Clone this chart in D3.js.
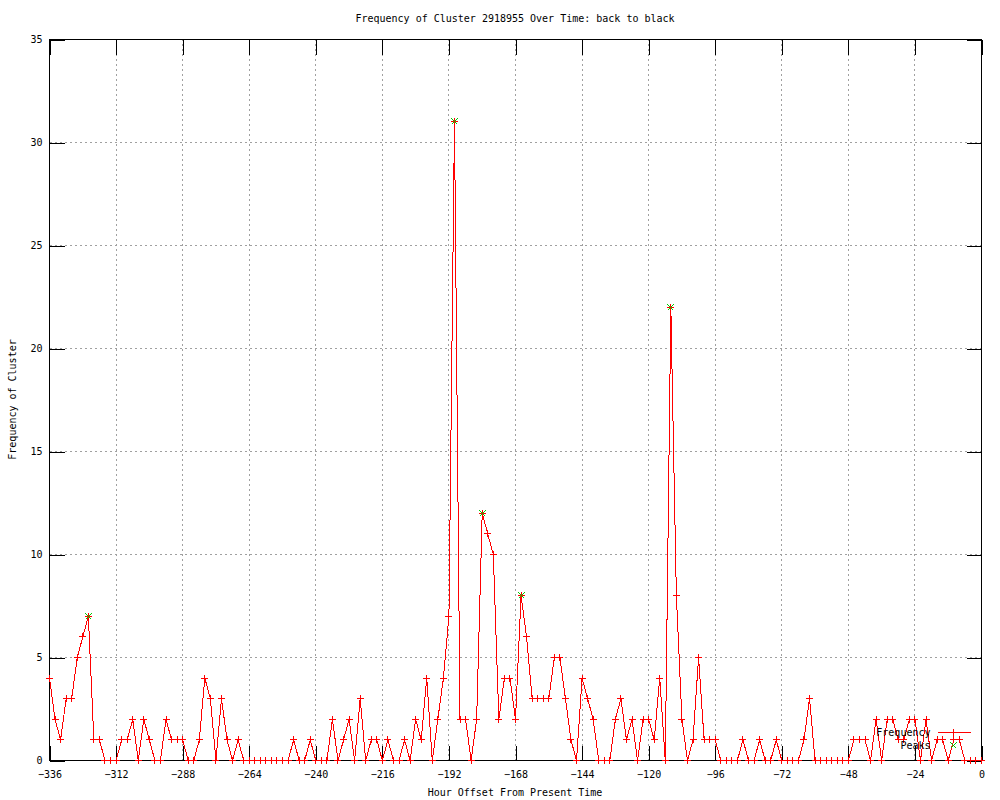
<!DOCTYPE html>
<html>
<head>
<meta charset="utf-8">
<script src="https://cdn.jsdelivr.net/npm/d3@7"></script>
<style>
body { margin: 0; background: #fff; }
text { font-family: "DejaVu Sans Mono", monospace; font-size: 10px; fill: #000; }
</style>
</head>
<body>
<div id="container"></div>
<script>
// frequency per 2-hour bucket, starting at -336h
const hourStart = -336,
      hourStep = 2;
const frequency = [
  4,2,1,3,3,5,6,7,1,1,
  0,0,0,1,1,2,0,2,1,0,
  0,2,1,1,1,0,0,1,4,3,
  0,3,1,0,1,0,0,0,0,0,
  0,0,0,0,1,0,0,1,0,0,
  0,2,0,1,2,0,3,0,1,1,
  0,1,0,0,1,0,2,1,4,0,
  2,4,7,31,2,2,0,2,12,11,
  10,2,4,4,2,8,6,3,3,3,
  3,5,5,3,1,0,4,3,2,0,
  0,0,2,3,1,2,0,2,2,1,
  4,0,22,8,2,0,1,5,1,1,
  1,0,0,0,0,1,0,0,1,0,
  0,1,0,0,0,0,1,3,0,0,
  0,0,0,0,0,1,1,1,0,2,
  0,2,2,1,1,2,2,0,2,0,
  1,1,0,1,1,0,0,0,0
];
const peakHours = [-322, -190, -180, -166, -112];
const peakValues = [7, 31, 12, 8, 22];

const xTicks = [-336,-312,-288,-264,-240,-216,-192,-168,-144,-120,-96,-72,-48,-24,0];
const yTicks = [0,5,10,15,20,25,30,35];

const titleText = "Frequency of Cluster 2918955 Over Time: back to black",
      xLabel = "Hour Offset From Present Time",
      yLabel = "Frequency of Cluster";

const w = 1000,
      h = 800,
      plot = {left: 49, right: 981, top: 39, bottom: 760},
      tickLen = 15;

const freqData = frequency.map((v, i) => ({hour: hourStart + i * hourStep, value: v}));
const peakData = peakHours.map((hr, i) => ({hour: hr, value: peakValues[i]}));

const x = d3.scaleLinear().domain([-336, 0]).range([plot.left, plot.right]);
const y = d3.scaleLinear().domain([0, 35]).range([plot.bottom, plot.top]);

let svg = d3.select("#container")
    .append("svg")
    .attr("width", w)
    .attr("height", h);

let g = svg.append("g")
    .attr("transform", "translate(0.5,0.5)");

// dotted grid
let grid = g.append("g")
    .attr("stroke", "#a0a0a0")
    .attr("stroke-dasharray", "2,3")
    .attr("shape-rendering", "crispEdges");

grid.selectAll(".vgrid")
    .data(xTicks.slice(1, -1))
    .enter()
    .append("line")
    .attr("x1", (d) => Math.round(x(d)))
    .attr("x2", (d) => Math.round(x(d)))
    .attr("y1", plot.bottom)
    .attr("y2", plot.top);

grid.selectAll(".hgrid")
    .data(yTicks.slice(1, -1))
    .enter()
    .append("line")
    .attr("x1", plot.left)
    .attr("x2", plot.right)
    .attr("y1", (d) => Math.round(y(d)))
    .attr("y2", (d) => Math.round(y(d)));

// axes
function styleAxis(sel) {
    sel.select(".domain").remove();
    sel.selectAll("line").attr("stroke", "#000").attr("shape-rendering", "crispEdges");
    sel.selectAll("text").attr("font-family", null).attr("font-size", null).attr("fill", null);
}

const xr = (d) => Math.round(x(d)) + 0.5;

g.append("g")
    .attr("transform", "translate(0," + plot.bottom + ")")
    .call(d3.axisBottom(x).tickValues(xTicks).tickSize(-tickLen).tickPadding(10).tickFormat(d3.format("d")))
    .call(styleAxis);

g.append("g")
    .attr("transform", "translate(0," + plot.top + ")")
    .call(d3.axisTop(x).tickValues(xTicks).tickSize(-tickLen).tickFormat(""))
    .call(styleAxis);

g.append("g")
    .attr("transform", "translate(" + plot.left + ",0)")
    .call(d3.axisLeft(y).tickValues(yTicks).tickSize(-tickLen).tickPadding(7))
    .call(styleAxis);

g.append("g")
    .attr("transform", "translate(" + plot.right + ",0)")
    .call(d3.axisRight(y).tickValues(yTicks).tickSize(-tickLen).tickFormat(""))
    .call(styleAxis);

// frame
g.append("rect")
    .attr("x", plot.left)
    .attr("y", plot.top)
    .attr("width", plot.right - plot.left)
    .attr("height", plot.bottom - plot.top)
    .attr("fill", "none")
    .attr("stroke", "#000")
    .attr("shape-rendering", "crispEdges");

// frequency line + points
const line = d3.line()
    .x((d) => x(d.hour))
    .y((d) => y(d.value));

g.append("path")
    .datum(freqData)
    .attr("d", line)
    .attr("fill", "none")
    .attr("stroke", "#ff0000")
    .attr("stroke-width", 1)
    .attr("shape-rendering", "crispEdges");

const plusPath = "M-3.5,0H3.5M0,-3.5V3.5",
      crossPath = "M-3,-3L3,3M-3,3L3,-3";

g.selectAll(".pt")
    .data(freqData)
    .enter()
    .append("path")
    .attr("class", "pt")
    .attr("transform", (d) => "translate(" + Math.round(x(d.hour)) + "," + Math.round(y(d.value)) + ")")
    .attr("d", plusPath)
    .attr("stroke", "#ff0000")
    .attr("fill", "none")
    .attr("shape-rendering", "crispEdges");

g.selectAll(".peak")
    .data(peakData)
    .enter()
    .append("path")
    .attr("class", "peak")
    .attr("transform", (d) => "translate(" + Math.round(x(d.hour)) + "," + Math.round(y(d.value)) + ")")
    .attr("d", crossPath)
    .attr("stroke", "#00cc00")
    .attr("fill", "none")
    .attr("shape-rendering", "crispEdges");

// legend
let legend = g.append("g").attr("id", "legend");
legend.append("text")
    .attr("x", 930).attr("y", 732).attr("dy", "0.32em")
    .attr("text-anchor", "end")
    .text("Frequency");
legend.append("line")
    .attr("x1", 937).attr("x2", 970).attr("y1", 732).attr("y2", 732)
    .attr("stroke", "#ff0000")
    .attr("shape-rendering", "crispEdges");
legend.append("path")
    .attr("transform", "translate(953,732)")
    .attr("d", plusPath)
    .attr("stroke", "#ff0000")
    .attr("shape-rendering", "crispEdges");
legend.append("text")
    .attr("x", 930).attr("y", 745).attr("dy", "0.32em")
    .attr("text-anchor", "end")
    .text("Peaks");
legend.append("path")
    .attr("transform", "translate(953,745)")
    .attr("d", crossPath)
    .attr("stroke", "#00cc00")
    .attr("shape-rendering", "crispEdges");

// titles
svg.append("text")
    .attr("x", (plot.left + plot.right) / 2).attr("y", 19).attr("dy", "0.32em")
    .attr("text-anchor", "middle")
    .text(titleText);

svg.append("text")
    .attr("x", (plot.left + plot.right) / 2).attr("y", 793).attr("dy", "0.32em")
    .attr("text-anchor", "middle")
    .text(xLabel);

svg.append("text")
    .attr("transform", "translate(13," + (plot.top + plot.bottom) / 2 + ") rotate(-90)")
    .attr("dy", "0.32em")
    .attr("text-anchor", "middle")
    .text(yLabel);
</script>
</body>
</html>
